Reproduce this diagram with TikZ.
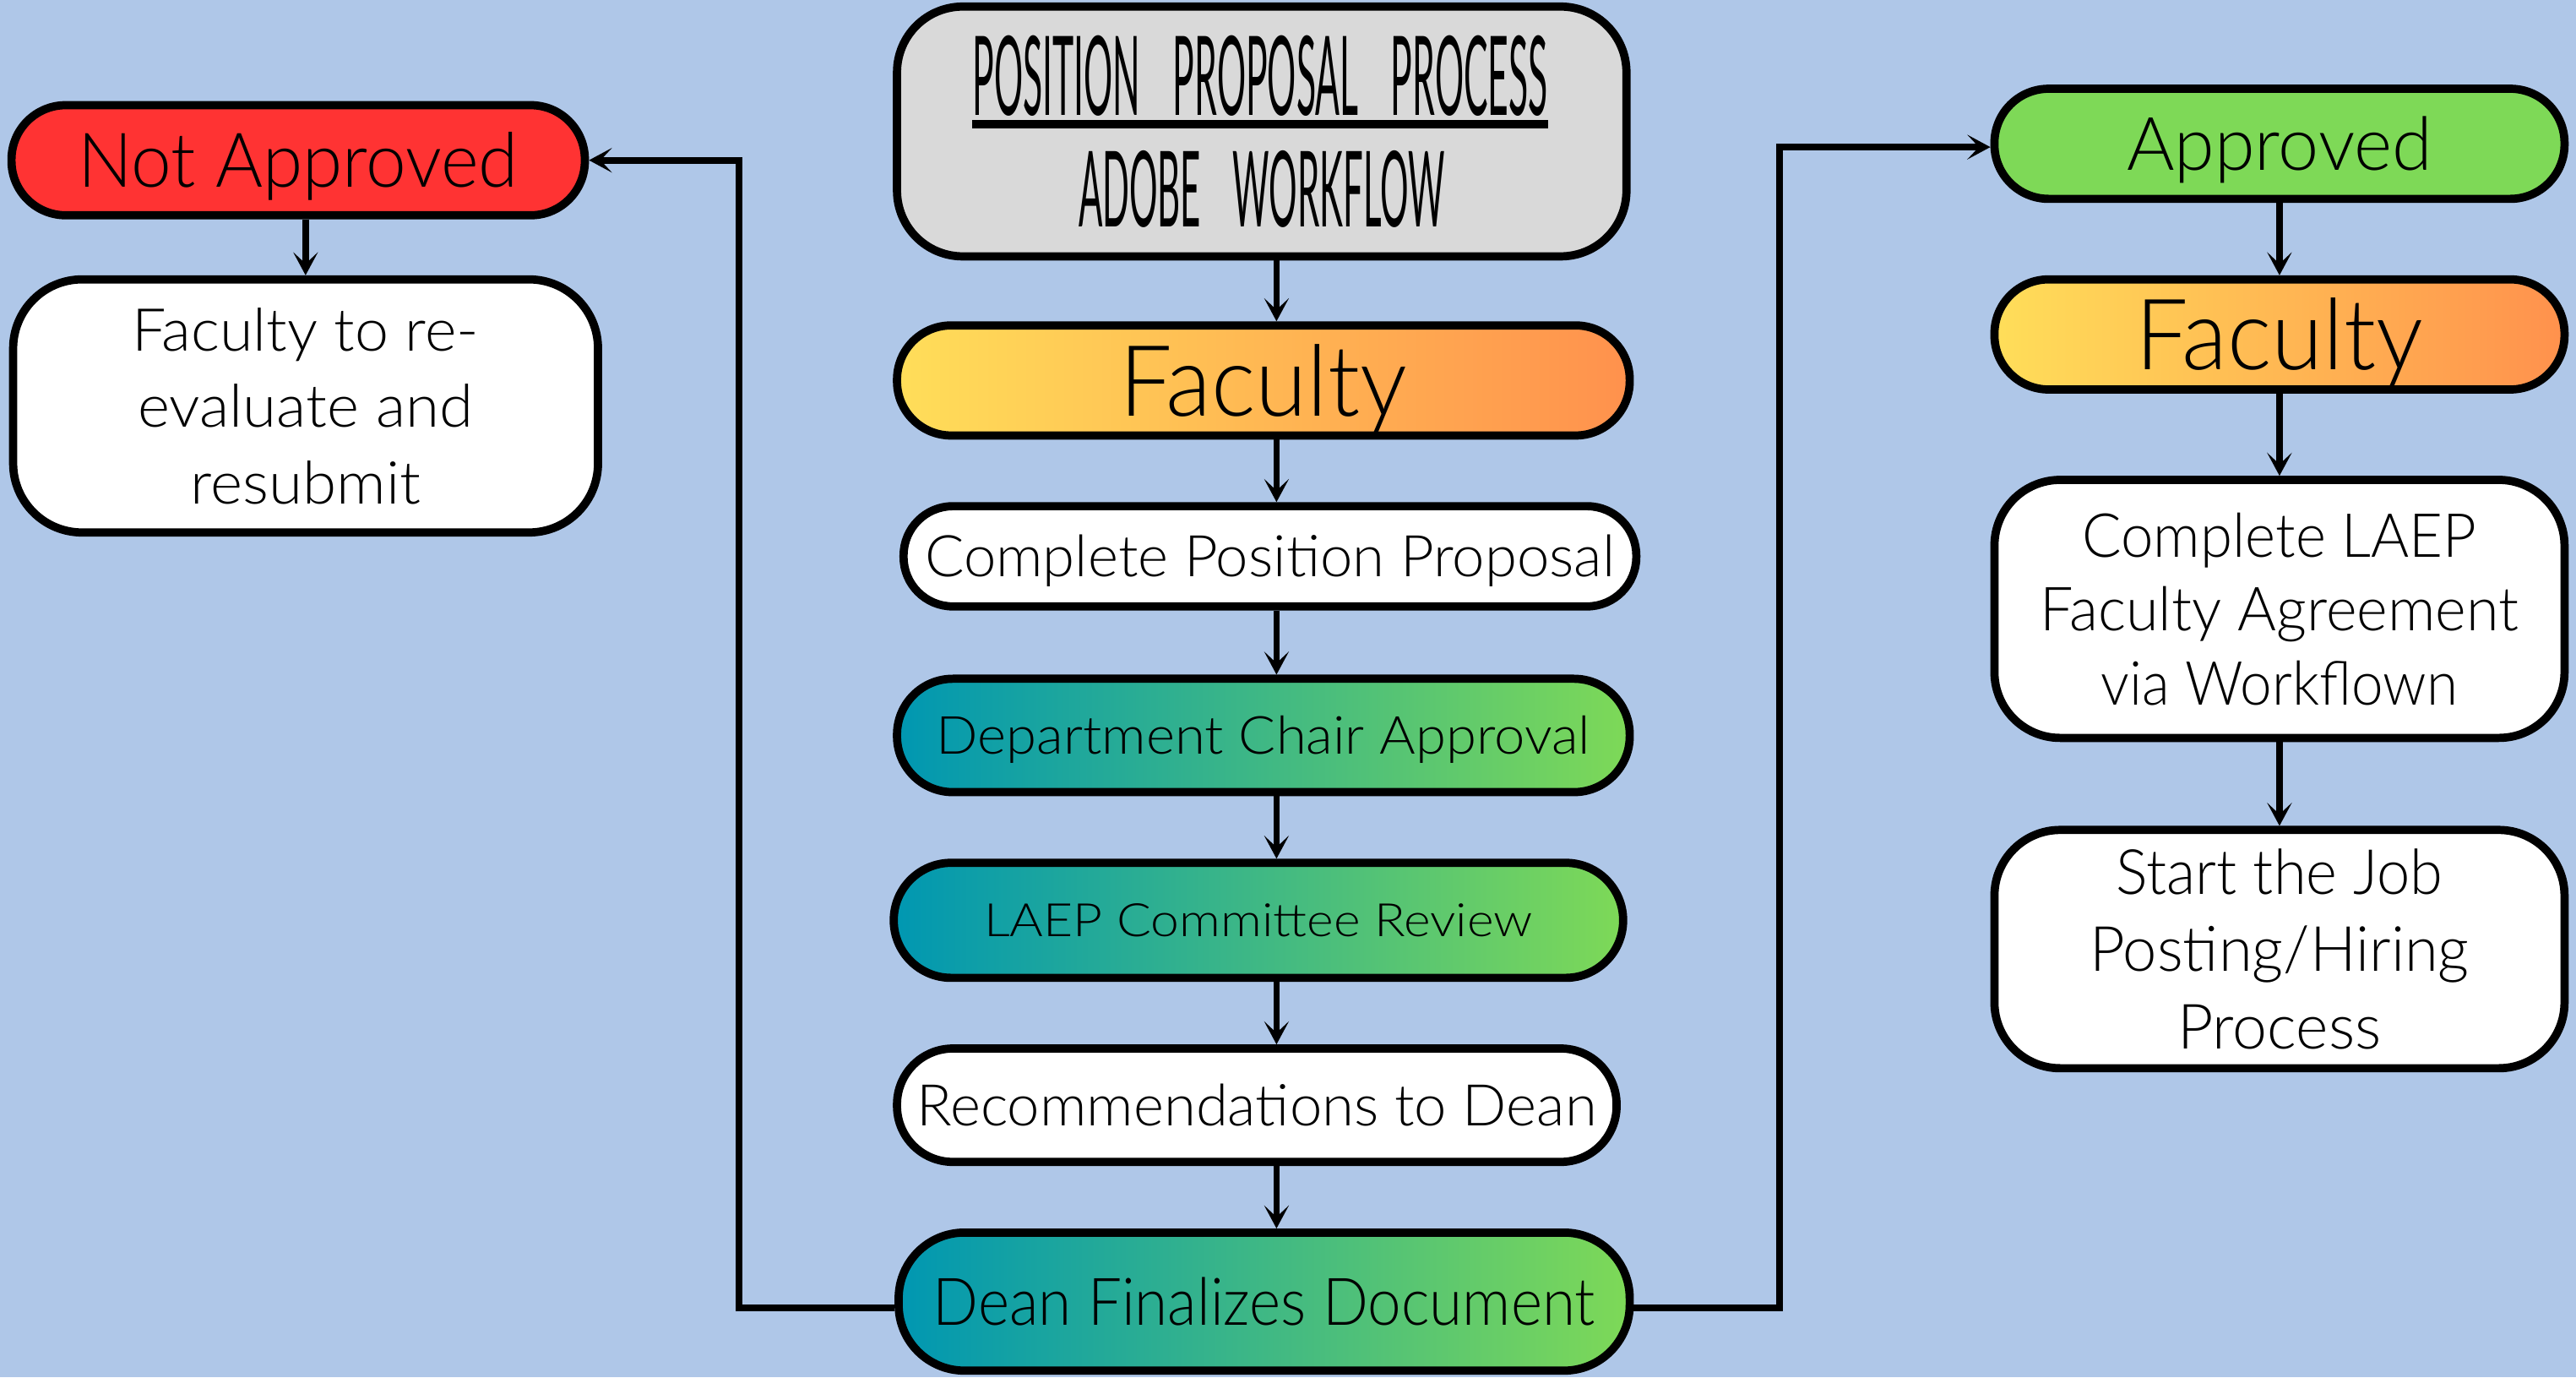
\documentclass[tikz,border=0pt]{standalone}
\usepackage{fontspec}
\setmainfont{Lato Light}
\newfontfamily\headfont{Lato}
\usetikzlibrary{arrows.meta}
\definecolor{bgblue}{RGB}{175,199,232}
\definecolor{titlegrey}{HTML}{D9D9D9}
\definecolor{nored}{HTML}{FF3333}
\definecolor{okgreen}{HTML}{7ED957}
\definecolor{sunyellow}{HTML}{FFDE59}
\definecolor{sunorange}{HTML}{FF914D}
\definecolor{deepteal}{HTML}{0097B2}
% set a line of text to a given width (in pt) by scaling it horizontally
\newsavebox\fxbox
\newcommand\fitx[2]{\sbox\fxbox{#2}\pgfmathsetmacro\fxr{#1/\the\wd\fxbox}\scalebox{\fxr}[1]{\usebox\fxbox}}
\newcommand\fsz[1]{\fontsize{#1}{#1}\selectfont}
\newcommand\wgap{\hspace{0.9em}}
\begin{document}
\begin{tikzpicture}[x=1pt,y=-1pt,
  box/.style={draw=black, line width=5pt, inner sep=0pt},
  pill/.style={box, rounded corners=#1},
  oneline/.style={text height=#1, text depth=0pt},
  sunfill/.style={left color=sunyellow, right color=sunorange},
  seafill/.style={left color=deepteal, right color=okgreen},
  arr/.style={line width=4pt, -{Stealth[length=14pt,width=15pt,inset=7pt]}},
]
\fill[bgblue] (0,0) rectangle (1568,838);
\useasboundingbox (0,0) rectangle (1568,838);

% centre column
\node[pill=40pt, fill=titlegrey, minimum width=444pt, minimum height=152pt] (title) at (768,80) {};
\node[inner sep=0pt, oneline=48pt, font=\headfont\fsz{67}] (t1) at (767,46) {\fitx{350}{POSITION\wgap PROPOSAL\wgap PROCESS}};
\draw[line width=5pt] ([yshift=-5.5pt]t1.south west) -- ([yshift=-5.5pt]t1.south east);
\node[inner sep=0pt, oneline=46pt, font=\headfont\fsz{64}] (t2) at (768,115) {\fitx{223}{ADOBE\wgap WORKFLOW}};

\node[pill=33pt, sunfill, minimum width=446pt, minimum height=67pt, oneline=43pt, font=\fsz{60}] (fac) at (769,231.5) {\fitx{175}{Faculty}};
\node[pill=30pt, fill=white, minimum width=446pt, minimum height=61pt, oneline=25pt, font=\fsz{35}] (cpp) at (773,338.5) {\fitx{420}{Complete Position Proposal}};
\node[pill=34pt, seafill, minimum width=446pt, minimum height=69pt, oneline=23pt, font=\fsz{32}] (dca) at (769,447.5) {\fitx{398}{Department Chair Approval}};
\node[pill=35pt, seafill, minimum width=444pt, minimum height=70pt, oneline=20pt, font=\fsz{28}] (laep) at (766,560) {\fitx{334}{LAEP Committee Review}};
\node[pill=34pt, fill=white, minimum width=438pt, minimum height=69pt, oneline=25pt, font=\fsz{35}] (rec) at (765,672.5) {\fitx{414}{Recommendations to Dean}};
\node[pill=40pt, seafill, minimum width=445pt, minimum height=84pt, oneline=29pt, font=\fsz{40}] (dean) at (769.5,792) {\fitx{403}{Dean Finalizes Document}};

% left branch
\node[pill=33pt, fill=nored, minimum width=349pt, minimum height=67pt, oneline=33pt, font=\fsz{46}] (na) at (181.5,97.5) {\fitx{268}{Not Approved}};
\node[pill=42pt, fill=white, minimum width=356pt, minimum height=154pt, align=center, font=\fontsize{36}{46.5}\selectfont] (re) at (186,247)
  {\fitx{211}{Faculty to re-}\\\fitx{204}{evaluate and}\\\fitx{140}{resubmit}};

% right branch
\node[pill=33pt, fill=okgreen, minimum width=347pt, minimum height=67pt, oneline=32pt, font=\fsz{45}] (ap) at (1387.5,87.5) {\fitx{186}{Approved}};
\node[pill=33pt, sunfill, minimum width=347pt, minimum height=67pt, oneline=43pt, font=\fsz{60}] (fac2) at (1387.5,203.5) {\fitx{175}{Faculty}};
\node[pill=40pt, fill=white, minimum width=347pt, minimum height=157pt, align=center, font=\fontsize{37}{45}\selectfont] (cl) at (1387.5,370.5)
  {\fitx{240}{Complete LAEP}\\\fitx{291}{Faculty Agreement}\\\fitx{217}{via Workflown}};
\node[pill=40pt, fill=white, minimum width=347pt, minimum height=145pt, align=center, font=\fontsize{38}{47}\selectfont] (sj) at (1387.5,577.5)
  {\fitx{199}{Start the Job}\\\fitx{231}{Posting/Hiring}\\\fitx{124}{Process}};

% connectors
\coordinate (colx) at (777,0);
\coordinate (lx) at (450,0);
\coordinate (rx) at (1083,0);
\draw[arr] (title.south -| colx) -- (fac.north -| colx);
\draw[arr] (fac.south -| colx) -- (cpp.north -| colx);
\draw[arr] (cpp.south -| colx) -- (dca.north -| colx);
\draw[arr] (dca.south -| colx) -- (laep.north -| colx);
\draw[arr] (laep.south -| colx) -- (rec.north -| colx);
\draw[arr] (rec.south -| colx) -- (dean.north -| colx);

\draw[arr] (na.south -| re.north) -- (re.north);
\draw[arr] (ap.south) -- (fac2.north);
\draw[arr] (fac2.south) -- (cl.north);
\draw[arr] (cl.south) -- (sj.north);

\draw[arr] ([yshift=-4pt]dean.west) -- ([yshift=-4pt]dean.west -| lx) |- (na.east);
\draw[arr] ([yshift=-4pt]dean.east) -- ([yshift=-4pt]dean.east -| rx) |- ([yshift=-2pt]ap.west);
\end{tikzpicture}
\end{document}
